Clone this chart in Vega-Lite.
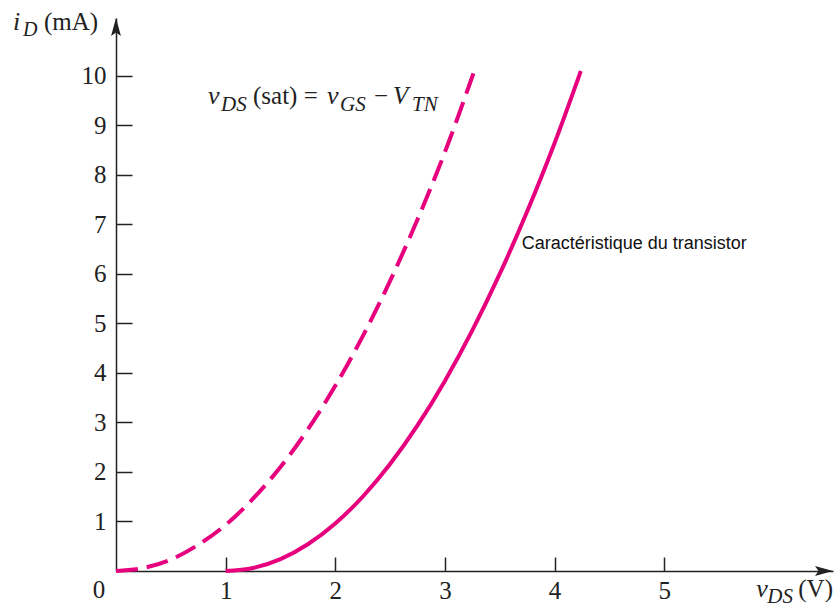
{
  "$schema": "https://vega.github.io/schema/vega-lite/v6.json",
  "width": 717,
  "height": 553,
  "autosize": {"type": "none"},
  "padding": {"left": 116, "top": 18, "right": 4, "bottom": 38},
  "background": "white",
  "config": {"view": {"stroke": null}},
  "layer": [
    {
      "data": {"values": [
        {"v": 0, "i": 0}, {"v": 0.25, "i": 0.06}, {"v": 0.5, "i": 0.23}, {"v": 0.75, "i": 0.53},
        {"v": 1, "i": 0.93}, {"v": 1.25, "i": 1.46}, {"v": 1.5, "i": 2.1}, {"v": 1.75, "i": 2.86},
        {"v": 2, "i": 3.74}, {"v": 2.25, "i": 4.74}, {"v": 2.5, "i": 5.86}, {"v": 2.75, "i": 7.1},
        {"v": 3, "i": 8.46}, {"v": 3.26, "i": 10.05}
      ]},
      "mark": {"type": "line", "color": "#E6007E", "strokeWidth": 4, "strokeDash": [22, 9], "interpolate": "monotone"},
      "encoding": {
        "x": {"field": "v", "type": "quantitative",
          "scale": {"domain": [0, 6.54], "nice": false, "zero": false},
          "axis": {"values": [1, 2, 3, 4, 5], "format": "d", "title": null, "grid": false,
            "domainColor": "#222", "domainWidth": 1.5, "tickColor": "#222", "tickWidth": 1.5,
            "tickSize": -14, "labelPadding": 21, "labelFont": "Liberation Serif", "labelFontSize": 25,
            "labelColor": "#222"}},
        "y": {"field": "i", "type": "quantitative",
          "scale": {"domain": [0, 11.17], "nice": false, "zero": false},
          "axis": {"values": [1, 2, 3, 4, 5, 6, 7, 8, 9, 10], "format": "d", "title": null, "grid": false,
            "domainColor": "#222", "domainWidth": 1.5, "tickColor": "#222", "tickWidth": 1.5,
            "tickSize": -16, "labelPadding": 26, "labelFont": "Liberation Serif", "labelFontSize": 25,
            "labelColor": "#222"}}
      }
    },
    {
      "data": {"values": [
        {"v": 1, "i": 0}, {"v": 1.25, "i": 0.06}, {"v": 1.5, "i": 0.24}, {"v": 1.75, "i": 0.54},
        {"v": 2, "i": 0.96}, {"v": 2.25, "i": 1.5}, {"v": 2.5, "i": 2.16}, {"v": 2.75, "i": 2.94},
        {"v": 3, "i": 3.84}, {"v": 3.25, "i": 4.86}, {"v": 3.5, "i": 6.0}, {"v": 3.75, "i": 7.26},
        {"v": 4, "i": 8.64}, {"v": 4.24, "i": 10.1}
      ]},
      "mark": {"type": "line", "color": "#E6007E", "strokeWidth": 4, "interpolate": "monotone"},
      "encoding": {
        "x": {"field": "v", "type": "quantitative"},
        "y": {"field": "i", "type": "quantitative"}
      }
    },
    {
      "data": {"values": [{"v": 6.54, "i": 0}]},
      "mark": {"type": "point", "shape": "M0,0 L-2,-0.55 L-1.6,0 L-2,0.55 Z", "size": 324, "filled": true, "color": "#222", "opacity": 1},
      "encoding": {"x": {"field": "v", "type": "quantitative"}, "y": {"field": "i", "type": "quantitative"}}
    },
    {
      "data": {"values": [{"v": 0, "i": 11.17}]},
      "mark": {"type": "point", "shape": "M0,0 L-0.55,2 L0,1.6 L0.55,2 Z", "size": 324, "filled": true, "color": "#222", "opacity": 1},
      "encoding": {"x": {"field": "v", "type": "quantitative"}, "y": {"field": "i", "type": "quantitative"}}
    },
    {
      "data": {"values": [{"label": "0", "v": -0.155, "i": -0.545}]},
      "mark": {"type": "text", "font": "Liberation Serif", "fontSize": 25, "align": "center", "baseline": "alphabetic", "color": "#222"},
      "encoding": {"x": {"field": "v", "type": "quantitative"}, "y": {"field": "i", "type": "quantitative"}, "text": {"field": "label"}}
    },
    {
      "data": {"values": [{"label": "Caractéristique du transistor", "v": 3.7, "i": 6.5}]},
      "mark": {"type": "text", "font": "Liberation Sans", "fontSize": 18, "align": "left", "baseline": "alphabetic", "color": "#111"},
      "encoding": {"x": {"field": "v", "type": "quantitative"}, "y": {"field": "i", "type": "quantitative"}, "text": {"field": "label"}}
    },
    {
      "data": {"values": [
        {"label": "i", "v": -0.94, "i": 10.93},
        {"label": "v", "v": 5.84, "i": -0.525},
        {"label": "v", "v": 0.839, "i": 9.43}
      ]},
      "mark": {"type": "text", "font": "Liberation Serif", "fontStyle": "italic", "fontSize": 26, "align": "left", "baseline": "alphabetic", "color": "#222"},
      "encoding": {"x": {"field": "v", "type": "quantitative"}, "y": {"field": "i", "type": "quantitative"}, "text": {"field": "label"}}
    },
    {
      "data": {"values": [{"label": "D", "v": -0.94, "i": 10.93}]},
      "mark": {"type": "text", "font": "Liberation Serif", "fontStyle": "italic", "fontSize": 20, "align": "left", "baseline": "alphabetic", "dx": 10, "dy": 6, "color": "#222"},
      "encoding": {"x": {"field": "v", "type": "quantitative"}, "y": {"field": "i", "type": "quantitative"}, "text": {"field": "label"}}
    },
    {
      "data": {"values": [{"label": "(mA)", "v": -0.94, "i": 10.93}]},
      "mark": {"type": "text", "font": "Liberation Serif", "fontSize": 25, "align": "left", "baseline": "alphabetic", "dx": 31, "color": "#222"},
      "encoding": {"x": {"field": "v", "type": "quantitative"}, "y": {"field": "i", "type": "quantitative"}, "text": {"field": "label"}}
    },
    {
      "data": {"values": [{"label": "DS", "v": 5.84, "i": -0.525}]},
      "mark": {"type": "text", "font": "Liberation Serif", "fontStyle": "italic", "fontSize": 21, "align": "left", "baseline": "alphabetic", "dx": 11, "dy": 6, "color": "#222"},
      "encoding": {"x": {"field": "v", "type": "quantitative"}, "y": {"field": "i", "type": "quantitative"}, "text": {"field": "label"}}
    },
    {
      "data": {"values": [{"label": "(V)", "v": 5.84, "i": -0.525}]},
      "mark": {"type": "text", "font": "Liberation Serif", "fontSize": 25, "align": "left", "baseline": "alphabetic", "dx": 42, "color": "#222"},
      "encoding": {"x": {"field": "v", "type": "quantitative"}, "y": {"field": "i", "type": "quantitative"}, "text": {"field": "label"}}
    },
    {
      "data": {"values": [{"label": "DS", "v": 0.839, "i": 9.43}]},
      "mark": {"type": "text", "font": "Liberation Serif", "fontStyle": "italic", "fontSize": 21, "align": "left", "baseline": "alphabetic", "dx": 13, "dy": 7, "color": "#222"},
      "encoding": {"x": {"field": "v", "type": "quantitative"}, "y": {"field": "i", "type": "quantitative"}, "text": {"field": "label"}}
    },
    {
      "data": {"values": [{"label": "(sat) =", "v": 0.839, "i": 9.43}]},
      "mark": {"type": "text", "font": "Liberation Serif", "fontSize": 25, "align": "left", "baseline": "alphabetic", "dx": 45, "color": "#222"},
      "encoding": {"x": {"field": "v", "type": "quantitative"}, "y": {"field": "i", "type": "quantitative"}, "text": {"field": "label"}}
    },
    {
      "data": {"values": [{"label": "v", "v": 0.839, "i": 9.43}]},
      "mark": {"type": "text", "font": "Liberation Serif", "fontStyle": "italic", "fontSize": 26, "align": "left", "baseline": "alphabetic", "dx": 119, "color": "#222"},
      "encoding": {"x": {"field": "v", "type": "quantitative"}, "y": {"field": "i", "type": "quantitative"}, "text": {"field": "label"}}
    },
    {
      "data": {"values": [{"label": "GS", "v": 0.839, "i": 9.43}]},
      "mark": {"type": "text", "font": "Liberation Serif", "fontStyle": "italic", "fontSize": 21, "align": "left", "baseline": "alphabetic", "dx": 132, "dy": 7, "color": "#222"},
      "encoding": {"x": {"field": "v", "type": "quantitative"}, "y": {"field": "i", "type": "quantitative"}, "text": {"field": "label"}}
    },
    {
      "data": {"values": [{"label": "−", "v": 0.839, "i": 9.43}]},
      "mark": {"type": "text", "font": "Liberation Serif", "fontSize": 25, "align": "left", "baseline": "alphabetic", "dx": 166, "color": "#222"},
      "encoding": {"x": {"field": "v", "type": "quantitative"}, "y": {"field": "i", "type": "quantitative"}, "text": {"field": "label"}}
    },
    {
      "data": {"values": [{"label": "V", "v": 0.839, "i": 9.43}]},
      "mark": {"type": "text", "font": "Liberation Serif", "fontStyle": "italic", "fontSize": 25, "align": "left", "baseline": "alphabetic", "dx": 185, "color": "#222"},
      "encoding": {"x": {"field": "v", "type": "quantitative"}, "y": {"field": "i", "type": "quantitative"}, "text": {"field": "label"}}
    },
    {
      "data": {"values": [{"label": "TN", "v": 0.839, "i": 9.43}]},
      "mark": {"type": "text", "font": "Liberation Serif", "fontStyle": "italic", "fontSize": 21, "align": "left", "baseline": "alphabetic", "dx": 204, "dy": 7, "color": "#222"},
      "encoding": {"x": {"field": "v", "type": "quantitative"}, "y": {"field": "i", "type": "quantitative"}, "text": {"field": "label"}}
    }
  ]
}
